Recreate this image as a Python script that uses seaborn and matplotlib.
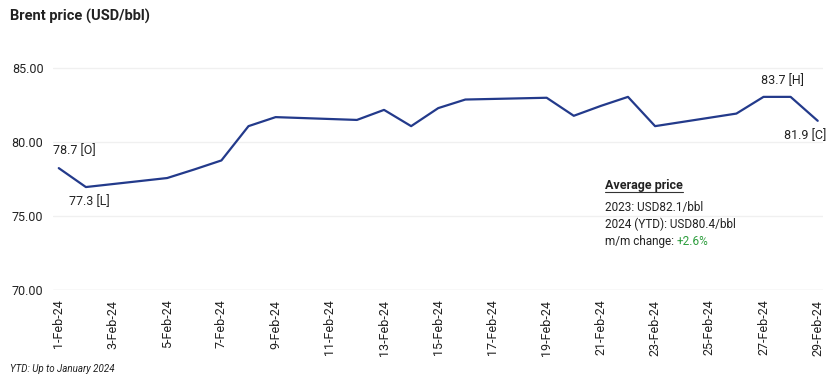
import pandas as pd
import matplotlib.pyplot as plt
import matplotlib.dates as mdates
from matplotlib.lines import Line2D
import seaborn as sns

# data (trading days only)
days = [1, 2, 5, 6, 7, 8, 9, 12, 13, 14, 15, 16, 19, 20, 21, 22, 23, 26, 27, 28, 29]
brent = [78.24, 76.96, 77.57, 78.15, 78.76, 81.08, 81.69, 81.50, 82.18, 81.08,
         82.30, 82.88, 83.00, 81.78, 82.45, 83.06, 81.08, 81.93, 83.06, 83.06, 81.44]
y_ticks = [70, 75, 80, 85]
avg_lines = ["2023: USD82.1/bbl", "2024 (YTD): USD80.4/bbl"]
mm_change = "+2.6%"

df = pd.DataFrame({"date": pd.to_datetime([f"2024-02-{d:02d}" for d in days]),
                   "price": brent})

sns.set_theme(style="white")
plt.rcParams['font.family'] = ['Roboto', 'DejaVu Sans']

fig = plt.figure(figsize=(8.3, 3.8), dpi=100)
ax = fig.add_axes([0.064, 0.237, 0.928, 0.603])

sns.lineplot(data=df, x="date", y="price", color="#233a8b", linewidth=1.6, ax=ax)

ax.set_ylim(70, 85.5)
ax.set_yticks(y_ticks)
ax.set_yticklabels([f"{v:.2f}" for v in y_ticks], fontsize=9, color="#222222")
ax.set_xlim(pd.Timestamp("2024-02-01") - pd.Timedelta(hours=5),
            pd.Timestamp("2024-02-29") + pd.Timedelta(hours=5))
ax.xaxis.set_major_locator(mdates.DayLocator(bymonthday=range(1, 30, 2)))
ax.xaxis.set_major_formatter(mdates.DateFormatter("%-d-%b-%y"))
plt.setp(ax.get_xticklabels(), rotation=90, fontsize=9, color="#222222")
ax.tick_params(axis="both", length=0, pad=7)
ax.set_xlabel("")
ax.set_ylabel("")
for s in ax.spines.values():
    s.set_visible(False)
for v in y_ticks:
    ax.axhline(v, color="#dddddd" if v == 70 else "#f0f0f0", linewidth=1, zorder=0)

# open / low / high / close labels
d0, dl, dh, dc = df.iloc[0], df.iloc[1], df.iloc[18], df.iloc[-1]
kw = dict(textcoords="offset points", fontsize=9, color="#222222")
ax.annotate("78.7 [O]", (d0.date, d0.price), xytext=(-4, 8), ha="left", va="bottom", **kw)
ax.annotate("77.3 [L]", (dl.date, dl.price), xytext=(-12, -6), ha="left", va="top", **kw)
ax.annotate("83.7 [H]", (dh.date, dh.price), xytext=(-2, 7), ha="left", va="bottom", **kw)
ax.annotate("81.9 [C]", (dc.date, dc.price), xytext=(6, -6), ha="right", va="top", **kw)

# average price box
head = fig.text(0.729, 0.503, "Average price", fontsize=9, fontweight="bold", color="#222222")
fig.canvas.draw()
bb = head.get_window_extent().transformed(fig.transFigure.inverted())
fig.add_artist(Line2D([bb.x0, bb.x1], [0.494, 0.494], color="#333333", linewidth=0.8))
for i, s in enumerate(avg_lines):
    fig.text(0.729, 0.445 - i * 0.045, s, fontsize=8.5, color="#222222")
t = fig.text(0.729, 0.355, "m/m change: ", fontsize=8.5, color="#222222")
ax.annotate(mm_change, xy=(1, 0), xycoords=t, va="bottom", ha="left",
            fontsize=8.5, color="#2e9e3e")

fig.text(0.012, 0.945, "Brent price (USD/bbl)", fontsize=10.5, fontweight="bold", color="#222222")
fig.text(0.012, 0.02, "YTD: Up to January 2024", fontsize=7, style="italic", color="#222222")

fig.savefig("out.png", dpi=100)
